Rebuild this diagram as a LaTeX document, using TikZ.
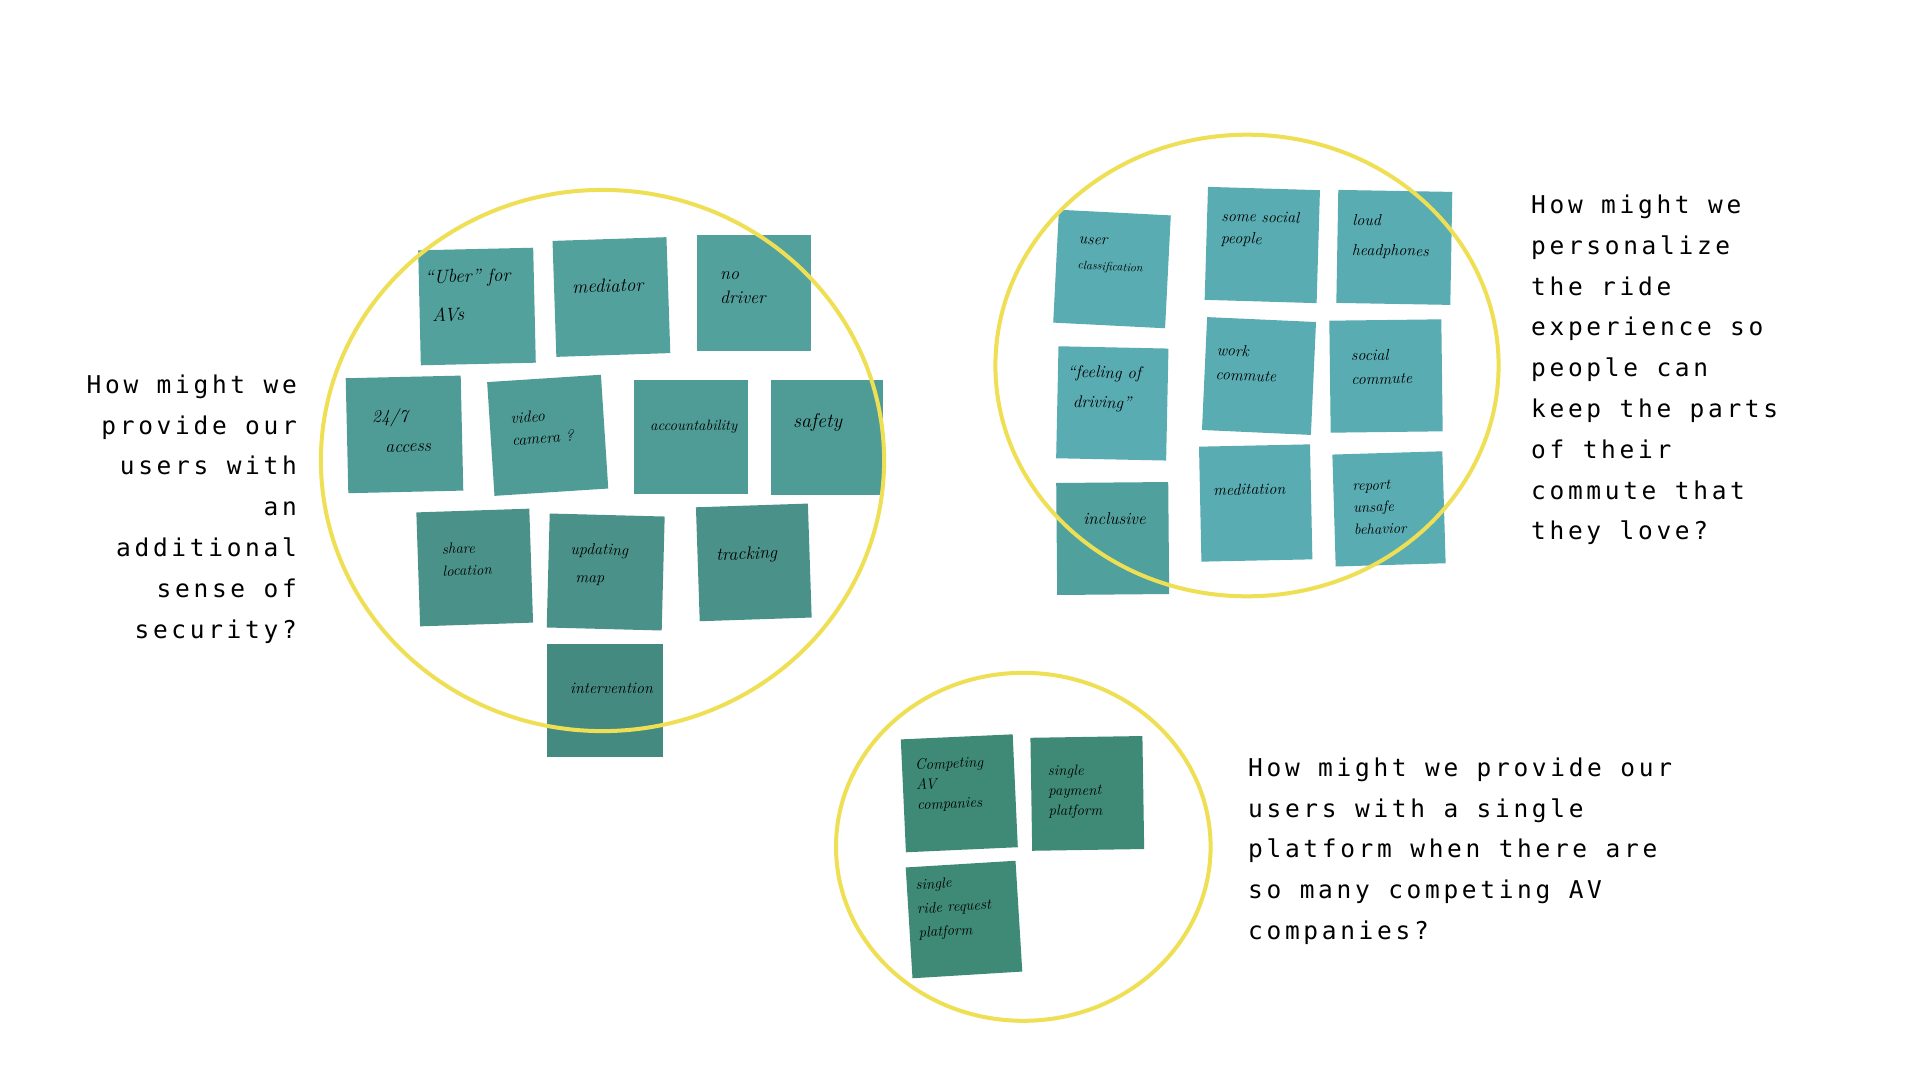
\documentclass[tikz,border=0pt]{standalone}
\usepackage{fontspec}
\newfontfamily\qfont{DejaVu Sans Mono}[LetterSpace=15]
\definecolor{ringyellow}{HTML}{EEDF55}
\definecolor{tealA}{HTML}{53A19D}
\definecolor{tealB}{HTML}{4F9C97}
\definecolor{tealC}{HTML}{4A9289}
\definecolor{tealD}{HTML}{458A80}
\definecolor{aquaA}{HTML}{58ACB2}
\definecolor{aquaB}{HTML}{50A09E}
\definecolor{greenA}{HTML}{3E8A76}
\tikzset{
  note/.style={rectangle, draw=none, inner sep=0pt, minimum width=114pt, minimum height=114pt},
  hand/.style 2 args={anchor=west, inner sep=0pt, align=left, text=black,
    font=\fontsize{#1}{#2}\selectfont\itshape},
  question/.style={inner sep=0pt, text=black,
    font=\qfont\fontsize{24.5}{40.8}\selectfont},
  ring/.style={draw=ringyellow, line width=4pt}
}
\begin{document}
\begin{tikzpicture}[x=1pt,y=-1pt]
\useasboundingbox (0,0) rectangle (1920,1080);
\fill[white] (0,0) rectangle (1920,1080);

% ---------- left cluster ----------
\node[note, fill=tealA, rotate=1.3, minimum width=115pt, minimum height=115pt] (n1) at (477,306.5) {};
\node[note, fill=tealA, rotate=1.9, minimum height=116pt] (n2) at (611.4,297) {};
\node[note, fill=tealA, minimum height=116pt] (n3) at (753.5,293.3) {};
\node[note, fill=tealB, rotate=1.3, minimum width=115pt, minimum height=115pt] (n4) at (404.5,434.4) {};
\node[note, fill=tealB, rotate=3.7] (n5) at (547.7,435.3) {};
\node[note, fill=tealB] (n6) at (691,437) {};
\node[note, fill=tealB, minimum width=112pt, minimum height=115pt] (n7) at (826.8,437.1) {};
\node[note, fill=tealC, rotate=1.9, minimum width=113pt] (n8) at (474.7,567.5) {};
\node[note, fill=tealC, rotate=-1.5, minimum width=115pt] (n9) at (605.7,572) {};
\node[note, fill=tealC, rotate=1.9, minimum width=112pt] (n10) at (753.8,562.4) {};
\node[note, fill=tealD, minimum width=116pt, minimum height=113pt] (n11) at (605,700.5) {};

\node[hand={19}{38}, rotate=1.3] (t1) at (425,296) {``Uber'' for\\ \ AVs};
\node[hand={19}{19}, rotate=1.9] (t2) at (572,287) {mediator};
\node[hand={18}{24}] (t3) at (720,288) {no\\driver};
\node[hand={18}{30}, rotate=1.3] (t4) at (372,431) {24/7\\ \ \ access};
\node[hand={16}{22}, rotate=3.7] (t5) at (511,429) {video\\camera ?};
\node[hand={15}{15}] (t6) at (650,427) {accountability};
\node[hand={20}{20}] (t7) at (793,422) {safety};
\node[hand={15}{22}, rotate=1.9] (t8) at (442,560) {share\\location};
\node[hand={16}{28}, rotate=-1.5] (t9) at (570,564) {updating\\ \ map};
\node[hand={18}{18}, rotate=1.9] (t10) at (716,556) {tracking};
\node[hand={16}{16}] (t11) at (570,688) {intervention};

% ---------- right cluster ----------
\node[note, fill=aquaA, rotate=-2.9, minimum width=112pt, minimum height=113pt] (r1) at (1112,269) {};
\node[note, fill=aquaA, rotate=-1.7, minimum width=112pt, minimum height=113pt] (r2) at (1262.3,245) {};
\node[note, fill=aquaA, rotate=-1, minimum height=113pt] (r3) at (1394.3,247.4) {};
\node[note, fill=aquaA, rotate=-1.2, minimum width=110pt, minimum height=112pt] (r4) at (1112.3,403.4) {};
\node[note, fill=aquaA, rotate=-2.6, minimum width=109pt, minimum height=113pt] (r5) at (1259,376) {};
\node[note, fill=aquaA, rotate=0.7, minimum width=112pt, minimum height=112pt] (r6) at (1386,376) {};
\node[note, fill=aquaB, rotate=0.5, minimum width=112pt, minimum height=112pt] (r7) at (1112.7,538.5) {};
\node[note, fill=aquaA, rotate=1.2, minimum width=111pt, minimum height=115pt] (r8) at (1255.7,503) {};
\node[note, fill=aquaA, rotate=1.7, minimum width=110pt, minimum height=112pt] (r9) at (1389,508.9) {};

\node[hand={16}{25}, rotate=-2.9] (s1) at (1078,254) {user\\{\fontsize{12}{25}\selectfont classification}};
\node[hand={16}{22}, rotate=-1.7] (s2) at (1221,228) {some social\\people};
\node[hand={16}{30}, rotate=-1] (s3) at (1352,236) {loud\\headphones};
\node[hand={17}{30}, rotate=-1.2] (s4) at (1067,388) {``feeling of\\ \ driving''};
\node[hand={16}{24}, rotate=-2.6] (s5) at (1216,362) {work\\commute};
\node[hand={16}{24}, rotate=0.7] (s6) at (1351,367) {social\\commute};
\node[hand={17}{17}, rotate=0.5] (s7) at (1083,519) {inclusive};
\node[hand={16}{16}, rotate=1.2] (s8) at (1213,490) {meditation};
\node[hand={15}{22}, rotate=1.7] (s9) at (1353,508) {report\\unsafe\\behavior};

% ---------- bottom cluster ----------
\node[note, fill=greenA, rotate=2.6, minimum width=112pt, minimum height=113pt] (b1) at (959.3,793.3) {};
\node[note, fill=greenA, rotate=0.9, minimum width=112pt, minimum height=113pt] (b2) at (1087.3,793.4) {};
\node[note, fill=greenA, rotate=3.5, minimum width=110pt, minimum height=111pt] (b3) at (964,919.5) {};

\node[hand={15}{20}, rotate=2.6] (u1) at (916,786) {Competing\\AV\\companies};
\node[hand={15}{20}, rotate=0.9] (u2) at (1048,792) {single\\payment\\platform};
\node[hand={15}{24}, rotate=3.5] (u3) at (917,910) {single\\ride request\\platform};

% ---------- rings ----------
\draw[ring] (602.5,460.5) ellipse [x radius=281.6, y radius=270.6];
\draw[ring] (1247,365.5) ellipse [x radius=251.6, y radius=230.8];
\draw[ring] (1023.3,846.8) ellipse [x radius=187.3, y radius=174];

% ---------- questions ----------
\node[question, anchor=north east, align=right] (q1) at (297,374.4)
  {How might we\\provide our\\users with\\an\\additional\\sense of\\security?};
\node[question, anchor=north west, align=left] (q2) at (1531,194.7)
  {How might we\\personalize\\the ride\\experience so\\people can\\keep the parts\\of their\\commute that\\they love?};
\node[question, anchor=north west, align=left] (q3) at (1248,757.4)
  {How might we provide our\\users with a single\\platform when there are\\so many competing AV\\companies?};
\end{tikzpicture}
\end{document}
